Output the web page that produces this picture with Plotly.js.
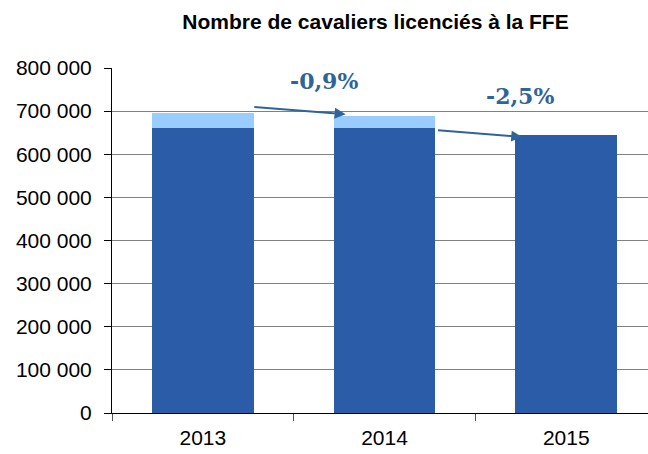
<!DOCTYPE html>
<html><head><meta charset="utf-8">
<script src="https://cdn.plot.ly/plotly-3.0.1.min.js"></script>
<style>body{margin:0;background:#fff}#c{width:648px;height:454px}</style>
</head><body><div id="c"></div>
<script>
const years = ['2013', '2014', '2015'];
const baseValues = [661000, 661000, 645000];
const extraValues = [35000, 28000, 0];
const changeLabels = ['-0,9%', '-2,5%'];
const tickVals = [0, 100000, 200000, 300000, 400000, 500000, 600000, 700000, 800000];
const tickText = ['0', '100 000', '200 000', '300 000', '400 000', '500 000', '600 000', '700 000', '800 000'];

const arrowColor = '#2F6499';
const data = [
  {type: 'bar', x: years, y: baseValues, marker: {color: '#2B5CA8'}, hoverinfo: 'none'},
  {type: 'bar', x: years, y: extraValues, marker: {color: '#99CCFF'}, hoverinfo: 'none'}
];
const annotations = [
  {x: 0.786, y: 693000, ax: 0.275, ay: 710000, xref: 'x', yref: 'y', axref: 'x', ayref: 'y',
   showarrow: true, arrowhead: 2, arrowsize: 1.1, arrowwidth: 2, arrowcolor: arrowColor, text: ''},
  {x: 1.758, y: 640000, ax: 1.286, ay: 656000, xref: 'x', yref: 'y', axref: 'x', ayref: 'y',
   showarrow: true, arrowhead: 2, arrowsize: 1.1, arrowwidth: 2, arrowcolor: arrowColor, text: ''},
  {x: 0.665, y: 770000, xref: 'x', yref: 'y', showarrow: false, text: '<b>' + changeLabels[0] + '</b>',
   font: {family: 'DejaVu Serif', size: 22, color: arrowColor}},
  {x: 1.745, y: 736000, xref: 'x', yref: 'y', showarrow: false, text: '<b>' + changeLabels[1] + '</b>',
   font: {family: 'DejaVu Serif', size: 22, color: arrowColor}}
];
const layout = {
  width: 648, height: 454,
  margin: {l: 112, r: 0, t: 68, b: 41},
  paper_bgcolor: '#fff', plot_bgcolor: '#fff',
  barmode: 'stack', bargap: 0.44, showlegend: false,
  title: {text: '<b>Nombre de cavaliers licenciés à la FFE</b>', x: 0.5795, xanchor: 'center',
          y: 0.9515, yanchor: 'middle',
          font: {family: 'Liberation Sans, Arial', size: 21, color: '#000'}},
  xaxis: {type: 'category', range: [-0.5, 2.45], showgrid: false, zeroline: false,
          showline: true, linecolor: '#000', linewidth: 1, ticks: 'outside', tickson: 'boundaries',
          ticklen: 7, tickcolor: '#555', fixedrange: true, ticklabelstandoff: 6,
          tickfont: {family: 'Liberation Sans, Arial', size: 21, color: '#000'}},
  yaxis: {range: [0, 800000], tickvals: tickVals, ticktext: tickText, showgrid: true, gridcolor: '#808080',
          gridwidth: 1, zeroline: false, showline: true, linecolor: '#000', linewidth: 1,
          ticks: 'outside', ticklen: 7, tickcolor: '#000', ticklabelstandoff: 8,
          tickfont: {family: 'Liberation Sans, Arial', size: 21, color: '#000'}},
  annotations: annotations
};
Plotly.newPlot('c', data, layout, {displayModeBar: false, staticPlot: true});
</script></body></html>
